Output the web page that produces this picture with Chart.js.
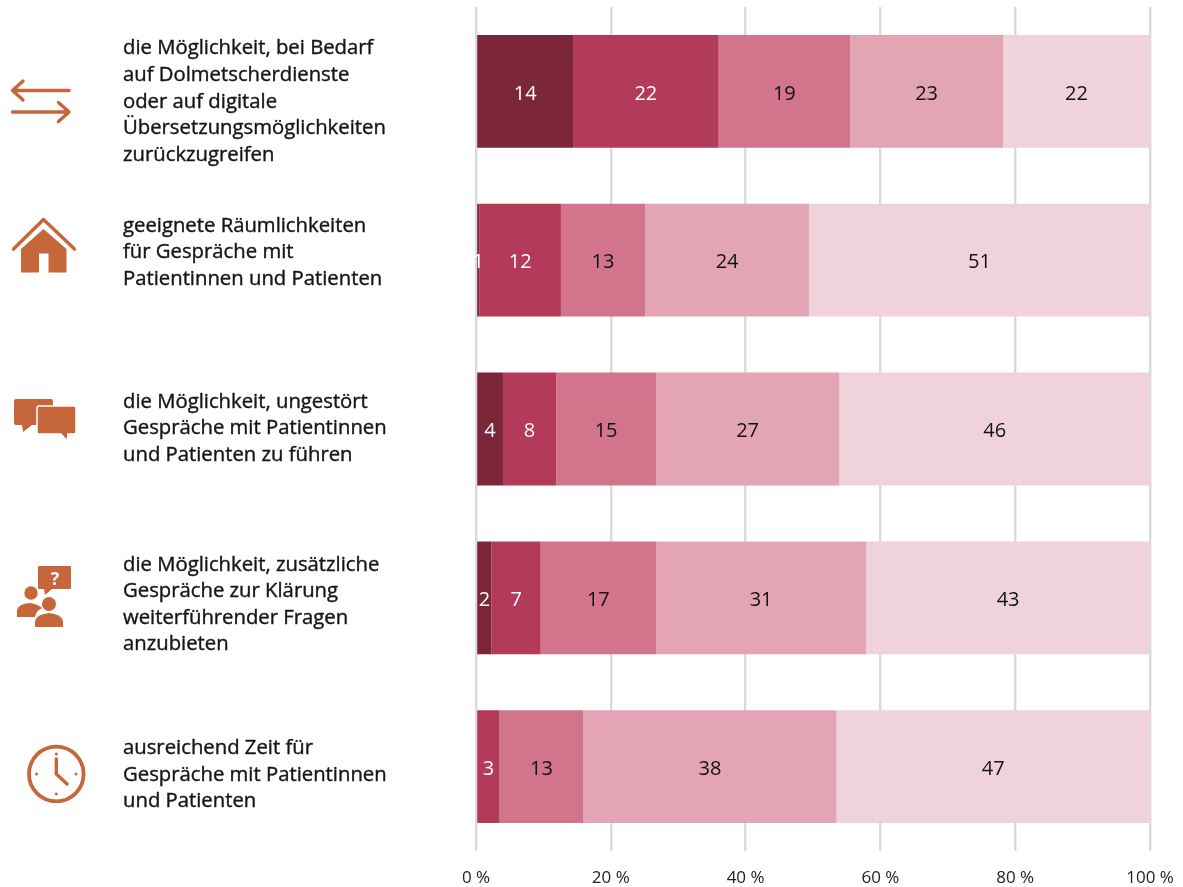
<!DOCTYPE html>
<html lang="de">
<head>
<meta charset="utf-8">
<title>Chart</title>
<style>
html,body{margin:0;padding:0;background:#fff;overflow:hidden}
#wrap{position:relative;width:1183px;height:887px}
canvas{position:absolute;left:0;top:0}
svg{position:absolute;left:0;top:0;pointer-events:none}
</style>
<script src="https://cdn.jsdelivr.net/npm/chart.js@4"></script>
</head>
<body>
<div id="wrap">
<canvas id="c" width="1183" height="887"></canvas>
<svg width="1183" height="887" viewBox="0 0 1183 887">
  <g fill="none" stroke="#C5673A" stroke-width="3.4" stroke-linecap="round" stroke-linejoin="round">
    <path d="M69 90.5H12.5M23 81L12.5 90.5L23 100"/>
    <path d="M12.5 112H69M58.5 102.5L69 112L58.5 121.5"/>
    <path d="M13.5 249L43.5 219.5L74.5 249"/>
    <circle cx="56.3" cy="774" r="27.3" stroke-width="3.8"/>
    <path d="M56.3 759V774L67 784"/>
  </g>
  <g fill="#C5673A">
    <path fill-rule="evenodd" d="M43.5 229L66.5 249V272.5H48.5V253.5H39V272.5H21V249Z"/>
    <circle cx="56.3" cy="754" r="1.5"/><circle cx="56.3" cy="794" r="1.5"/><circle cx="36.5" cy="774" r="1.5"/><circle cx="76" cy="774" r="1.5"/>
    <path d="M16 399H51Q53 399 53 401V425H32L23 432L22 425H16Q14 425 14 423V401Q14 399 16 399Z"/>
    <path d="M39 406H74Q76 406 76 408V432Q76 434 74 434H68L67 441L61 434H39Q37 434 37 432V408Q37 406 39 406Z" stroke="#fff" stroke-width="1.5"/>
    <path d="M39 566H70Q71 566 71 567V588Q71 589 70 589H52L45 595L44 589H39Q38 589 38 588V567Q38 566 39 566Z"/>
    <circle cx="31" cy="593" r="6.7"/>
    <path d="M17 617V610Q18 604 30 603Q38 604 42 608Q36 611 35 617Z"/>
    <circle cx="49" cy="604" r="7"/>
    <path d="M35 627V621Q37 614 49 613Q61 614 63 621V627Z"/>
  </g>
  <text x="55" y="585" text-anchor="middle" fill="#fff" font-family="Open Sans" font-weight="700" font-size="18">?</text>
</svg>
</div>
<script>
const categories = [
  ['die Möglichkeit, bei Bedarf','auf Dolmetscherdienste','oder auf digitale','Übersetzungsmöglichkeiten','zurückzugreifen'],
  ['geeignete Räumlichkeiten','für Gespräche mit','Patientinnen und Patienten'],
  ['die Möglichkeit, ungestört','Gespräche mit Patientinnen','und Patienten zu führen'],
  ['die Möglichkeit, zusätzliche','Gespräche zur Klärung','weiterführender Fragen','anzubieten'],
  ['ausreichend Zeit für','Gespräche mit Patientinnen','und Patienten']
];
const series1 = [14.4, 0.5, 4.0, 2.3, null];
const series2 = [21.6, 12.1, 7.9, 7.3, 3.5];
const series3 = [19.5, 12.5, 14.8, 17.1, 12.4];
const series4 = [22.7, 24.3, 27.2, 31.2, 37.6];
const series5 = [21.8, 50.6, 46.1, 42.1, 46.5];
const labels1 = ['14','1','4','2',''];
const labels2 = ['22','12','8','7','3'];
const labels3 = ['19','13','15','17','13'];
const labels4 = ['23','24','27','31','38'];
const labels5 = ['22','51','46','43','47'];
const seriesColors = ['#7B2639','#B43A59','#D2748C','#E3A4B5','#F0D3DA'];
const labelColors = ['#ffffff','#ffffff','#111111','#111111','#111111'];
const xTicks = [0,20,40,60,80,100];

const FONT = '"Open Sans", sans-serif';
const allValues = [series1,series2,series3,series4,series5];
const allLabels = [labels1,labels2,labels3,labels4,labels5];
const labelShift = [10.5,-7.5,-0.5,7,8.5];

const barLabelPlugin = {
  id:'barLabels',
  afterDatasetsDraw(chart){
    const ctx = chart.ctx;
    ctx.save();
    ctx.font = '20px ' + FONT;
    ctx.textAlign = 'center';
    ctx.textBaseline = 'middle';
    chart.data.datasets.forEach((ds,i)=>{
      chart.getDatasetMeta(i).data.forEach((bar,j)=>{
        const t = allLabels[i][j];
        if(!t) return;
        const p = bar.getProps(['x','y','base']);
        ctx.fillStyle = labelColors[i];
        ctx.fillText(t,(p.x+p.base)/2,p.y+2.5);
      });
    });
    // category labels, each block shifted individually as in the source figure
    ctx.font = '20.3px ' + FONT;
    ctx.textAlign = 'left';
    ctx.fillStyle = '#161616';
    ctx.strokeStyle = '#161616';
    ctx.lineWidth = 0.4;
    const yScale = chart.scales.y;
    categories.forEach((lines,i)=>{
      const c = yScale.getPixelForValue(i) + labelShift[i];
      lines.forEach((line,k)=>{
        const y = c+(k-(lines.length-1)/2)*26.6;
        ctx.fillText(line,123,y);
        ctx.strokeText(line,123,y);
      });
    });
    ctx.restore();
  }
};

new Chart(document.getElementById('c'),{
  type:'bar',
  data:{
    labels:categories,
    datasets:allValues.map((v,i)=>({
      label:'S'+(i+1),
      data:v,
      backgroundColor:seriesColors[i],
      borderWidth:0,
      categoryPercentage:1,
      barPercentage:0.668
    }))
  },
  options:{
    indexAxis:'y',
    responsive:false,
    animation:false,
    layout:{padding:{left:123,right:33,top:7,bottom:0}},
    plugins:{legend:{display:false},tooltip:{enabled:false}},
    scales:{
      x:{
        stacked:true,min:0,max:100,
        afterBuildTicks(s){s.ticks=xTicks.map(v=>({value:v}));},
        afterFit(s){s.height=36;s.paddingLeft=0;s.paddingRight=0;},
        grid:{color:'#DADADA',lineWidth:2.4,drawTicks:false},
        border:{display:false},
        ticks:{
          color:'#222222',padding:17,maxRotation:0,
          font:{family:FONT,size:17},
          callback:v=>v+' %'
        }
      },
      y:{
        stacked:true,
        afterFit(s){s.width=353;s.paddingTop=0;s.paddingBottom=0;},
        grid:{display:false},
        border:{display:false},
        ticks:{display:false}
      }
    }
  },
  plugins:[barLabelPlugin]
});
</script>
</body>
</html>
